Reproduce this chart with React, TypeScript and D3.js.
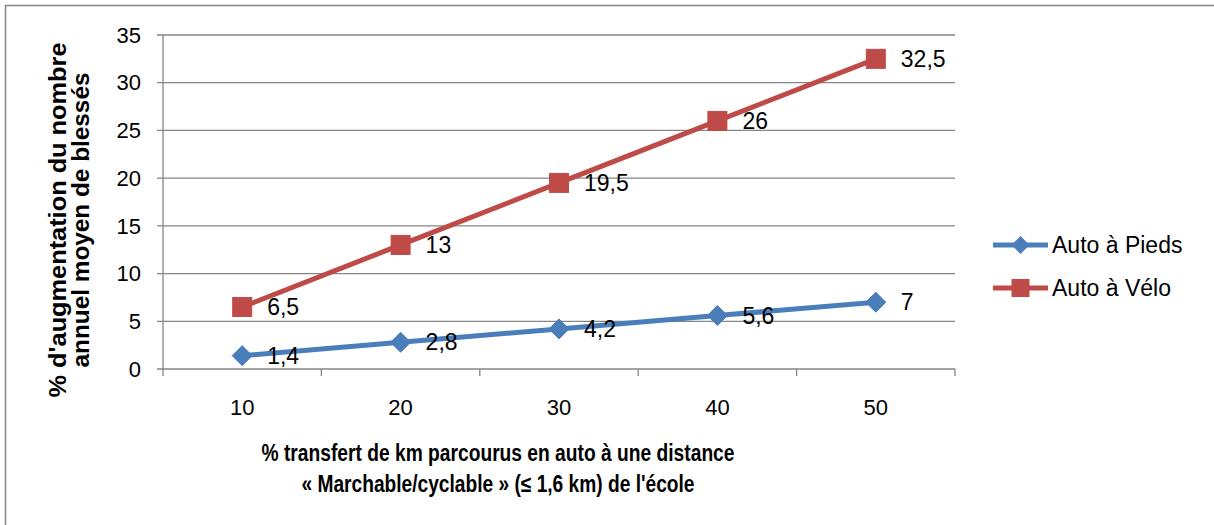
import React from "react";
import * as d3 from "d3";

const categories = ["10", "20", "30", "40", "50"];
const piedsValues = [1.4, 2.8, 4.2, 5.6, 7];
const veloValues = [6.5, 13, 19.5, 26, 32.5];
const piedsLabels = ["1,4", "2,8", "4,2", "5,6", "7"];
const veloLabels = ["6,5", "13", "19,5", "26", "32,5"];
const yTicks = [0, 5, 10, 15, 20, 25, 30, 35];
const seriesNames = ["Auto à Pieds", "Auto à Vélo"];
const xTitle = ["% transfert de km parcourus en auto à une distance", "« Marchable/cyclable » (≤ 1,6 km) de l'école"];
const yTitle = ["% d'augmentation du nombre", "annuel moyen de blessés"];

const W = 1214, H = 525;
const L = 163, R = 955, T = 35, B = 369;
const BLUE = "#4A7EBB";
const RED = "#BE4B48";
const GRID = "#868686";
const FONT = "'Liberation Sans', Arial, sans-serif";

export default function App() {
  const x = d3.scaleBand<string>().domain(categories).range([L, R]);
  const y = d3.scaleLinear().domain([0, 35]).range([B, T]);
  const cx = (c: string) => (x(c) as number) + x.bandwidth() / 2;
  const line = d3.line<number>().x((_, i) => cx(categories[i])).y((d) => y(d));
  const boundaries = categories.map((c) => x(c) as number).concat([R]);

  const diamond = (px: number, py: number, r: number) =>
    `M${px},${py - r}L${px + r},${py}L${px},${py + r}L${px - r},${py}Z`;

  return (
    <svg width={W} height={H} style={{ position: "absolute", left: 0, top: 0, background: "#fff" }} fontFamily={FONT}>
      <rect x={0} y={0} width={W} height={H} fill="#fff" />
      {/* outer border */}
      <path d={`M5.5,${H + 5}V5.5H${W + 5}`} fill="none" stroke={GRID} strokeWidth={1.5} />
      {/* gridlines */}
      {yTicks.map((t) => (
        <line key={t} x1={L - 6} x2={R} y1={y(t)} y2={y(t)} stroke={GRID} strokeWidth={1.3} />
      ))}
      {/* y axis */}
      <line x1={L} x2={L} y1={T} y2={B} stroke={GRID} strokeWidth={1.3} />
      {/* x ticks */}
      {boundaries.map((b, i) => (
        <line key={i} x1={b} x2={b} y1={B} y2={B + 7} stroke={GRID} strokeWidth={1.3} />
      ))}
      {/* y tick labels */}
      {yTicks.map((t) => (
        <text key={t} x={141} y={y(t)} dy="0.35em" textAnchor="end" fontSize={22} fill="#000">
          {t}
        </text>
      ))}
      {/* x tick labels */}
      {categories.map((c) => (
        <text key={c} x={cx(c)} y={415} textAnchor="middle" fontSize={22} fill="#000">
          {c}
        </text>
      ))}
      {/* lines */}
      <path d={line(piedsValues) || ""} fill="none" stroke={BLUE} strokeWidth={5} strokeLinejoin="round" />
      <path d={line(veloValues) || ""} fill="none" stroke={RED} strokeWidth={5} strokeLinejoin="round" />
      {/* markers */}
      {piedsValues.map((v, i) => (
        <path key={i} d={diamond(cx(categories[i]), y(v), 10)} fill={BLUE} stroke={BLUE} strokeWidth={1} />
      ))}
      {veloValues.map((v, i) => (
        <rect key={i} x={cx(categories[i]) - 9.5} y={y(v) - 9.5} width={19} height={19} fill={RED} stroke={RED} strokeWidth={1} />
      ))}
      {/* data labels */}
      {piedsValues.map((v, i) => (
        <text key={i} x={cx(categories[i]) + 25} y={y(v) + 8} fontSize={23} fill="#000">
          {piedsLabels[i]}
        </text>
      ))}
      {veloValues.map((v, i) => (
        <text key={i} x={cx(categories[i]) + 25} y={y(v) + 8} fontSize={23} fill="#000">
          {veloLabels[i]}
        </text>
      ))}
      {/* legend */}
      <line x1={993} x2={1048} y1={245} y2={245} stroke={BLUE} strokeWidth={5} />
      <path d={diamond(1020.5, 245, 9)} fill={BLUE} />
      <text x={1052} y={245} dy="0.35em" fontSize={23} fill="#000">{seriesNames[0]}</text>
      <line x1={993} x2={1048} y1={288} y2={288} stroke={RED} strokeWidth={5} />
      <rect x={1011.5} y={279} width={18} height={18} fill={RED} />
      <text x={1052} y={288} dy="0.35em" fontSize={23} fill="#000">{seriesNames[1]}</text>
      {/* x title */}
      <text x={498} y={461} textAnchor="middle" fontSize={23} fontWeight="bold" fill="#000" textLength={473} lengthAdjust="spacingAndGlyphs">
        {xTitle[0]}
      </text>
      <text x={498} y={492} textAnchor="middle" fontSize={23} fontWeight="bold" fill="#000" textLength={393} lengthAdjust="spacingAndGlyphs">
        {xTitle[1]}
      </text>
      {/* y title */}
      <g transform="translate(66,220) rotate(-90)">
        <text x={0} y={0} textAnchor="middle" fontSize={23} fontWeight="bold" fill="#000" textLength={355} lengthAdjust="spacingAndGlyphs">
          {yTitle[0]}
        </text>
      </g>
      <g transform="translate(89,220) rotate(-90)">
        <text x={0} y={0} textAnchor="middle" fontSize={23} fontWeight="bold" fill="#000" textLength={295} lengthAdjust="spacingAndGlyphs">
          {yTitle[1]}
        </text>
      </g>
    </svg>
  );
}
